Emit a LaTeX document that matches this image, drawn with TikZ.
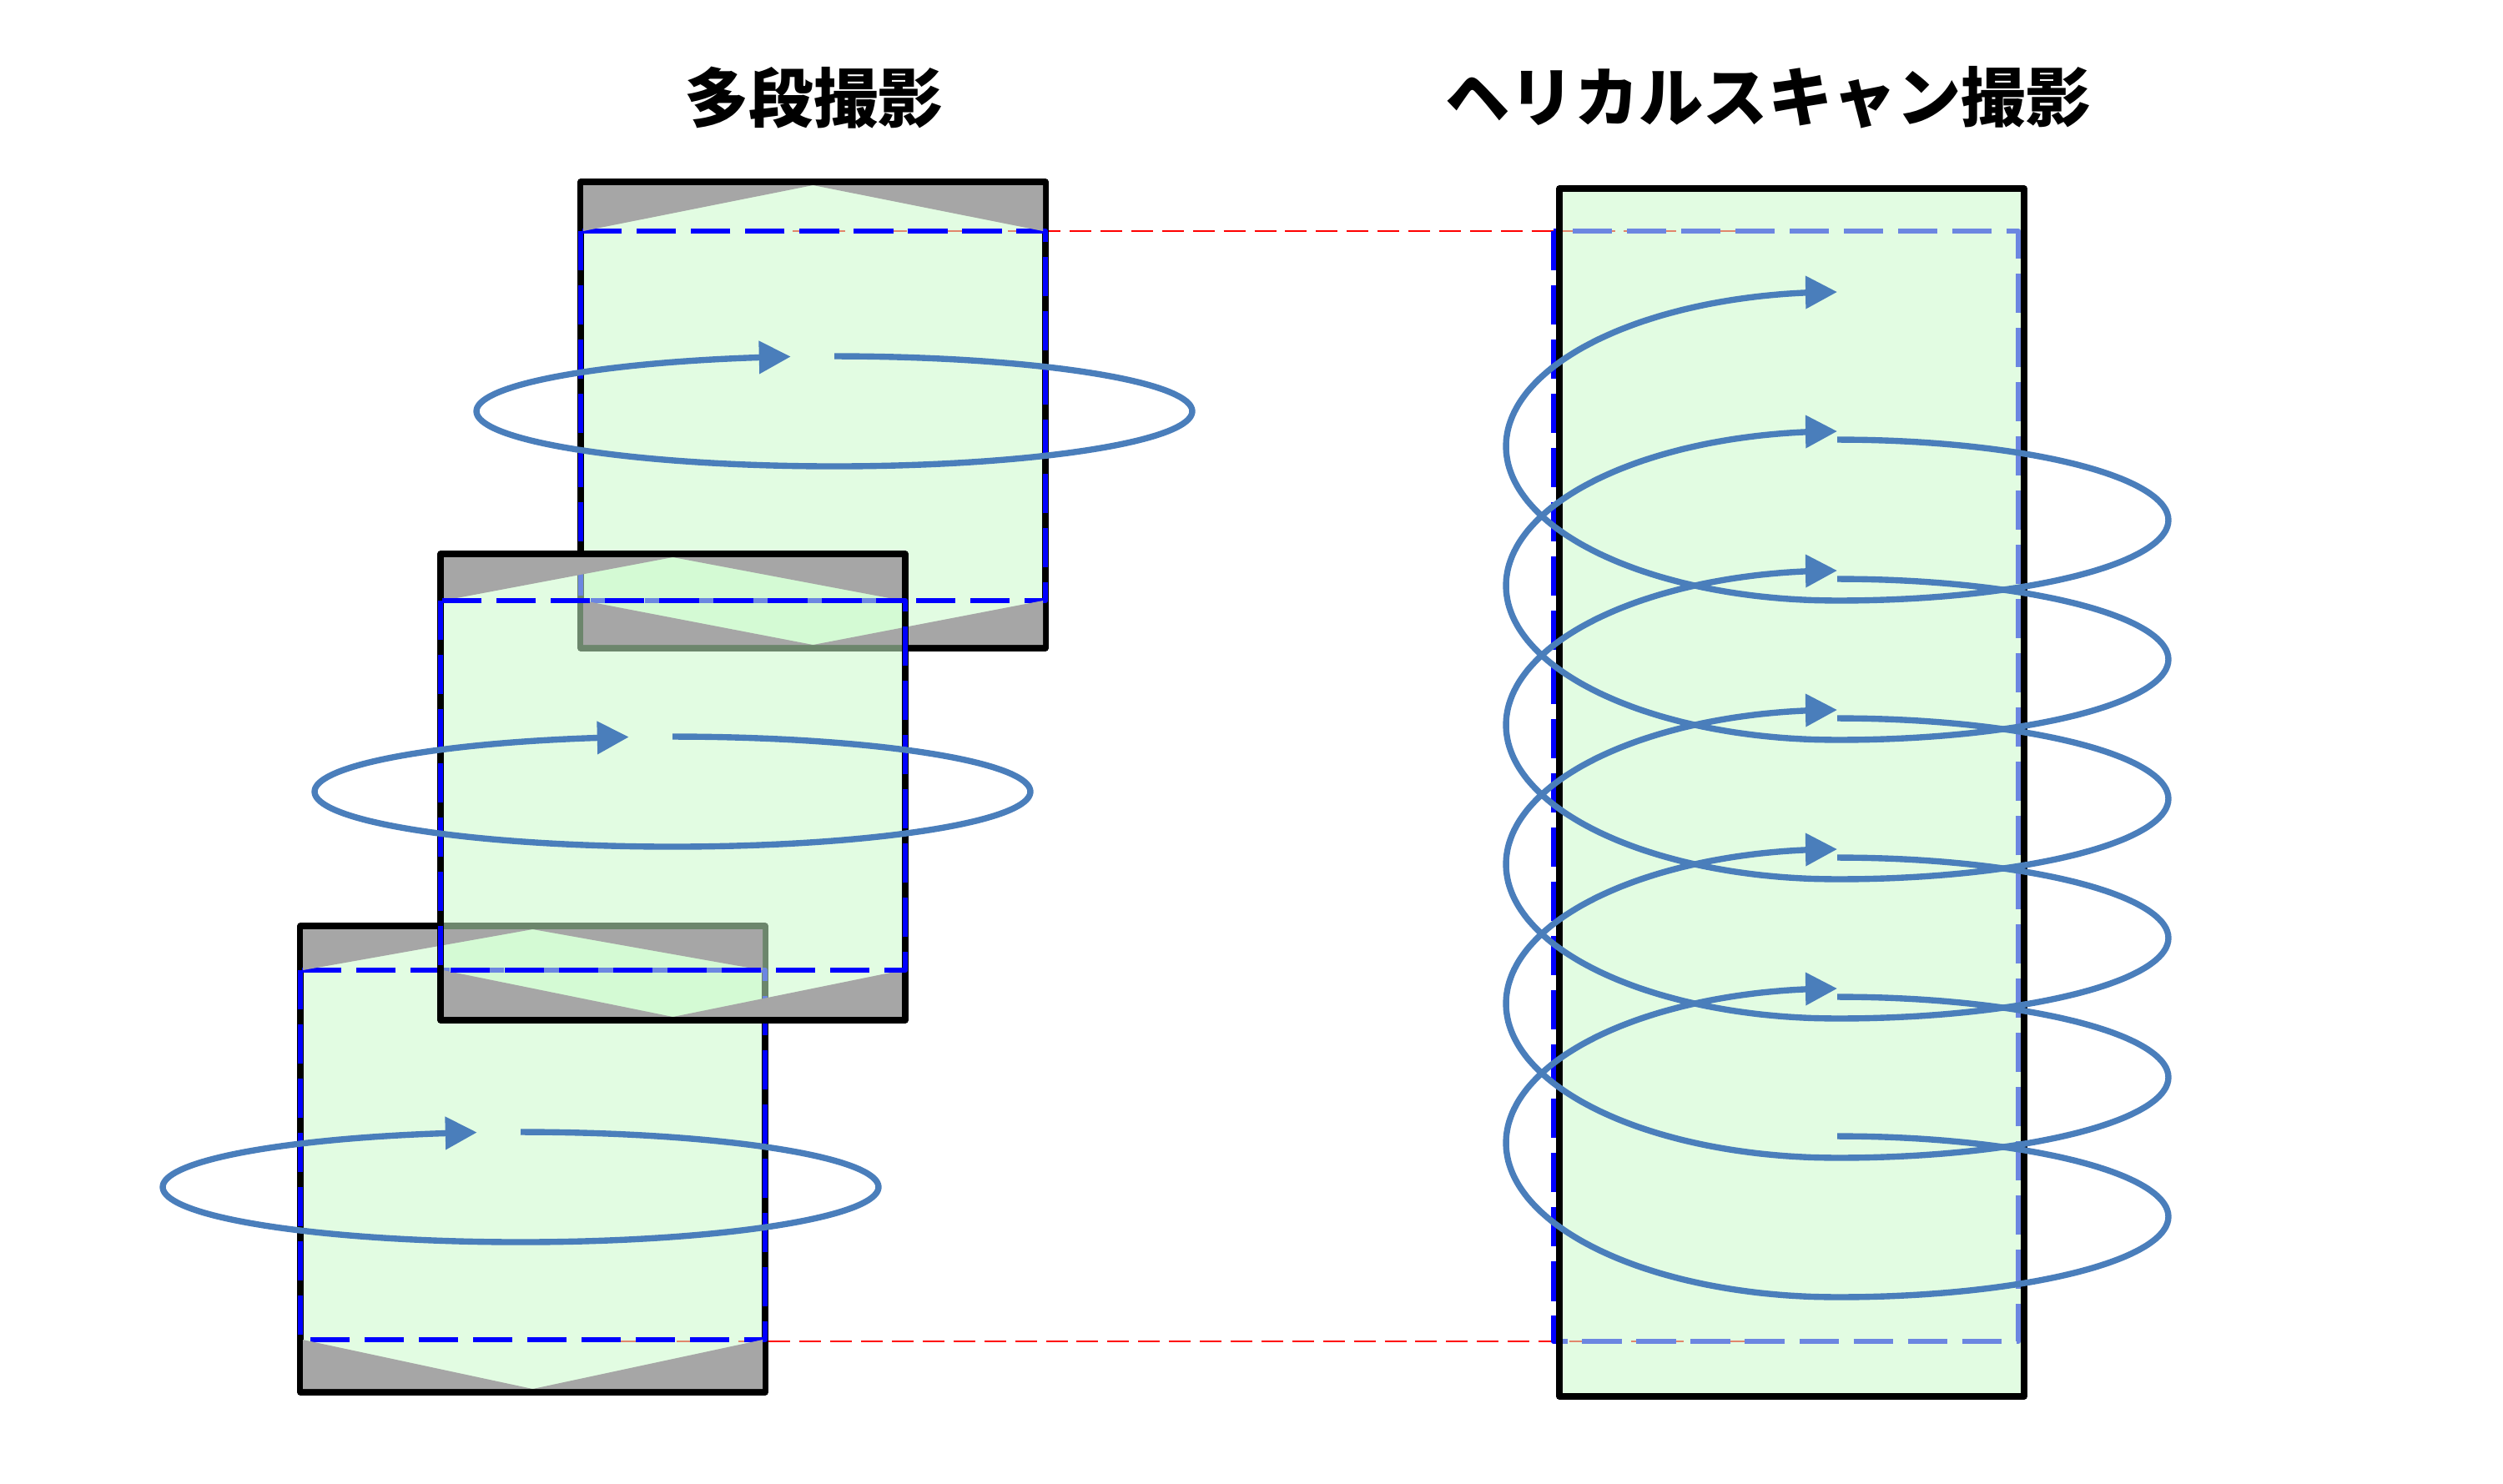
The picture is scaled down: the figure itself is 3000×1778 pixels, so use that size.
\documentclass[tikz,border=0pt]{standalone}
\usepackage{fontspec}
\newfontfamily\jpfont{Noto Sans CJK JP}
\usetikzlibrary{arrows.meta}
\definecolor{boxgreen}{HTML}{C9F9C9}
\definecolor{bandgrey}{HTML}{A6A6A6}
\definecolor{ringblue}{HTML}{4A7EBB}
\definecolor{scanblue}{HTML}{0000FF}
\definecolor{levelred}{HTML}{FF0000}
\tikzset{
  base/.style={x=0.1mm, y=-0.1mm, line join=round},
  frame/.style={draw=black, line width=2.1pt},
  greenfill/.style={fill=boxgreen, fill opacity=0.54},
  band/.style={fill=bandgrey},
  scanline/.style={draw=scanblue, line width=1.8pt, dash pattern=on 13.4pt off 5.1pt},
  levelline/.style={draw=levelred, line width=0.7pt, dash pattern=on 7.4pt off 3.1pt},
  ring/.style={draw=ringblue, line width=2.1pt},
  ringarrow/.style={ring, -{Triangle[length=10.8pt, width=10.8pt]}},
  title/.style={font=\jpfont\bfseries\fontsize{22pt}{26pt}\selectfont, inner sep=0pt}
}
\begin{document}
\begin{tikzpicture}[base]
    \useasboundingbox (0,0) rectangle (3000,1778);
    % titles
    \node [title] (multi) at (975,117) {多段撮影};
    \node [title] (helical) at (2119,117) {ヘリカルスキャン撮影};
    % red level lines
    \draw [levelline] (950,277) -- (2130,277);
    \draw [levelline] (700,1608) -- (2120,1608);
    % helical scan box
    \draw [scanline] (1862,277) rectangle (2419,1608);
    \fill [greenfill] (1869,226) rectangle (2426,1674);
    \draw [frame] (1869,226) rectangle (2426,1674);
    % step boxes 1 and 3
    \foreach \l/\t/\d in {696/218/277, 360/1110/1163} {
        \fill [greenfill] (\l,\t) rectangle ++(557,559);
        \draw [frame] (\l,\t) rectangle ++(557,559);
        \draw [scanline] (\l,\d) rectangle ++(557,443);
    }
    % step box 2 lies on top
    \fill [greenfill] (528,664) rectangle ++(557,559);
    % grey corners of the step boxes
    \foreach \l/\t/\d in {696/218/277, 528/664/720, 360/1110/1163} {
        \fill [band] (\l+3,\t+4) -- (\l+278.5,\t+4) -- (\l+3,\d) -- cycle
                     (\l+278.5,\t+4) -- (\l+554,\t+4) -- (\l+554,\d) -- cycle
                     (\l+3,\d+443) -- (\l+3,\t+555) -- (\l+278.5,\t+555) -- cycle
                     (\l+554,\d+443) -- (\l+554,\t+555) -- (\l+278.5,\t+555) -- cycle;
    }
    \draw [frame] (528,664) rectangle ++(557,559);
    \draw [scanline] (528,720) rectangle ++(557,443);
    % rotation of each step
    \foreach \cx/\cy in {1000/493, 806/949, 624/1423}
        \draw [ringarrow] plot [domain=90:-263, samples=90, smooth]
            ({\cx+429*cos(\x)}, {\cy-66*sin(\x)});
    % helix: front and back half turns
    \foreach \f in {1362,1195,1028,861,694,527} {
        \draw [ring] plot [domain=90:-90, samples=40, smooth]
            ({2202+397*cos(\x)}, {\f+96.5-96.5*sin(\x)});
        \draw [ringarrow] plot [domain=-90:-270, samples=40, smooth]
            ({2202+397*cos(\x)}, {\f+8-185*sin(\x)});
    }
\end{tikzpicture}
\end{document}
